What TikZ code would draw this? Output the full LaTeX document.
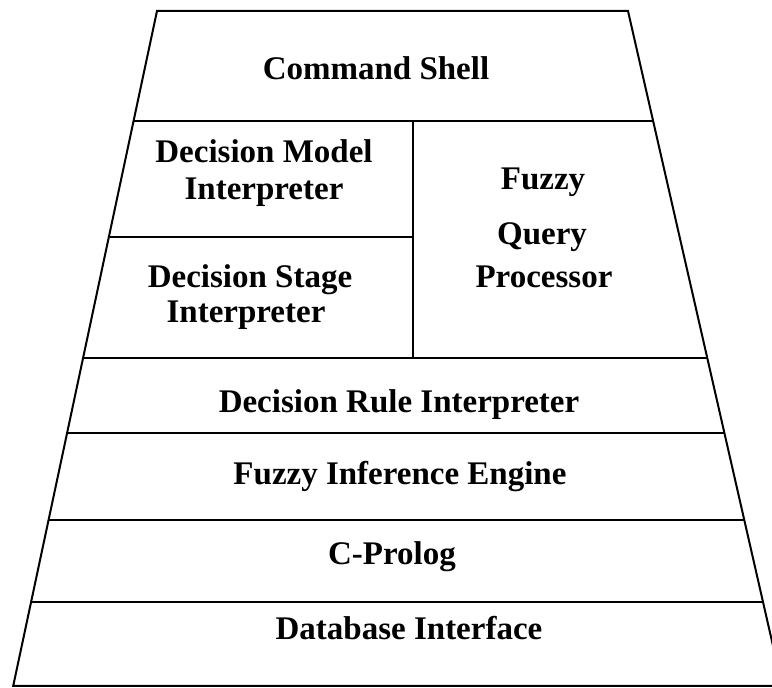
\documentclass[tikz,border=0pt]{standalone}
\usepackage{fontspec}
\setmainfont{Liberation Serif}
\begin{document}
\begin{tikzpicture}[x=0.5pt,y=-0.5pt,
  layer/.style={font=\fontsize{16.5}{20}\selectfont\bfseries,anchor=base,inner sep=0pt}]
\clip (0,0) rectangle (772,688);
% outline of the stack
\draw[line width=1pt] (157,11) -- (628,11) -- (782.2,686) -- (13.2,686) -- cycle;
% layer boundaries
\draw[line width=1pt] (133.6,121) -- (653.1,121);
\draw[line width=1pt] (108.9,237) -- (413,237);
\draw[line width=1pt] (413,121) -- (413,358);
\draw[line width=1pt] (83.1,358) -- (707.3,358);
\draw[line width=1pt] (67.1,433) -- (724.4,433);
\draw[line width=1pt] (48.6,520) -- (744.3,520);
\draw[line width=1pt] (31.1,602) -- (763,602);
% layer names
\node[layer] (shell) at (376,80) {Command Shell};
\node[layer] (model) at (264,163) {Decision Model};
\node[layer] (modelb) at (264,200) {Interpreter};
\node[layer] (stage) at (250,288) {Decision Stage};
\node[layer] (stageb) at (246,323) {Interpreter};
\node[layer] (fuzzy) at (543,190) {Fuzzy};
\node[layer] (query) at (542,245) {Query};
\node[layer] (proc) at (544,288) {Processor};
\node[layer] (rule) at (399,413) {Decision Rule Interpreter};
\node[layer] (infer) at (400,485) {Fuzzy Inference Engine};
\node[layer] (prolog) at (392,565) {C-Prolog};
\node[layer] (dbase) at (409,640) {Database Interface};
\end{tikzpicture}
\end{document}
